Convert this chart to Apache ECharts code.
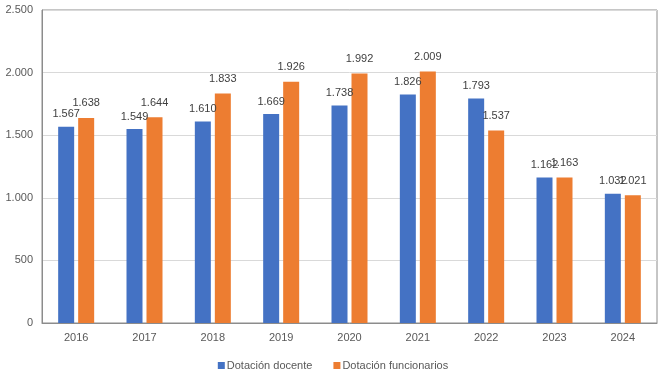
<!DOCTYPE html>
<html>
<head>
<meta charset="utf-8">
<script src="https://cdn.jsdelivr.net/npm/echarts@6/dist/echarts.min.js"></script>
<style>
html,body{margin:0;padding:0;background:#fff;}
#c{width:666px;height:379px;}
</style>
</head>
<body>
<div id="c"></div>
<script>
const categories = ['2016','2017','2018','2019','2020','2021','2022','2023','2024'];
const docente = [1567,1549,1610,1669,1738,1826,1793,1162,1032];
const funcionarios = [1638,1644,1833,1926,1992,2009,1537,1163,1021];
const seriesNames = ['Dotación docente','Dotación funcionarios'];

function fmt(v){
  return String(Math.round(v)).replace(/\B(?=(\d{3})+(?!\d))/g, '.');
}
const FONT = '"Liberation Sans", Arial, sans-serif';
const chart = echarts.init(document.getElementById('c'), null, {renderer:'canvas'});
chart.setOption({
  animation:false,
  backgroundColor:'#fff',
  grid:{left:42,right:9,top:10,bottom:56,show:true,borderColor:'#8c8c8c',borderWidth:1,containLabel:false},
  legend:{
    bottom:3,left:'center',
    itemWidth:7,itemHeight:7,itemGap:21,
    icon:'rect',
    textStyle:{fontFamily:FONT,fontSize:11,color:'#595959',padding:[0,0,0,-3]},
    data:seriesNames
  },
  xAxis:{
    type:'category',data:categories,
    axisLine:{show:true,lineStyle:{color:'#8c8c8c'}},
    axisTick:{show:false},
    axisLabel:{fontFamily:FONT,fontSize:11,color:'#595959',margin:9}
  },
  yAxis:{
    type:'value',min:0,max:2500,interval:500,
    axisLine:{show:true,lineStyle:{color:'#8c8c8c'}},
    axisTick:{show:false},
    splitLine:{lineStyle:{color:'#d9d9d9'}},
    axisLabel:{fontFamily:FONT,fontSize:11,color:'#595959',margin:9,formatter:fmt}
  },
  series:[
    {name:seriesNames[0],type:'bar',data:docente,barWidth:16,barGap:'25%',
     itemStyle:{color:'#4472C4'},
     label:{show:true,position:'top',distance:7,fontFamily:FONT,fontSize:11,color:'#404040',formatter:p=>fmt(p.value)}},
    {name:seriesNames[1],type:'bar',data:funcionarios,barWidth:16,barGap:'25%',
     itemStyle:{color:'#ED7D31'},
     label:{show:true,position:'top',distance:9,fontFamily:FONT,fontSize:11,color:'#404040',formatter:p=>fmt(p.value)}}
  ]
});
</script>
</body>
</html>
